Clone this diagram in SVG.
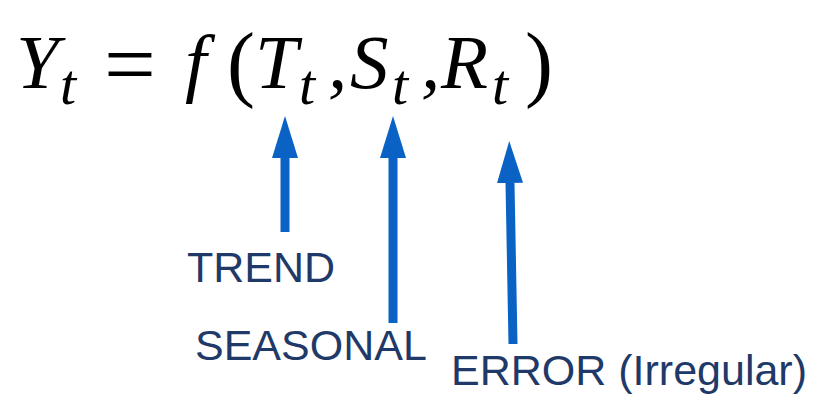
<svg xmlns="http://www.w3.org/2000/svg" width="838" height="400" viewBox="0 0 838 400">
<defs>
<style>
.eq{font-family:"Liberation Serif","DejaVu Serif",serif;font-style:italic;fill:#000}
.up{font-style:normal}
.sub{font-size:58px}
.lbl{font-family:"Liberation Sans",Arial,sans-serif;font-size:43px;fill:#1F3A68}
.arr{stroke:#0A63C4;stroke-width:9;fill:none;marker-end:url(#ah)}
</style>
<marker id="ah" viewBox="0 0 42 26" markerWidth="42" markerHeight="26" refX="0" refY="13" orient="auto" markerUnits="userSpaceOnUse">
<path d="M0,0 L42,13 L0,26 Z" fill="#0A63C4"/>
</marker>
</defs>
<rect width="838" height="400" fill="#fff"/>
<g id="equation">
<text class="eq" font-size="77"><tspan x="16" y="88">Y</tspan><tspan class="sub" x="60" y="104">t</tspan><tspan class="up" font-size="92" x="104" y="95">=</tspan><tspan x="185" y="88">f</tspan><tspan class="up" font-size="84" x="227" y="91">(</tspan><tspan x="255" y="88">T</tspan><tspan class="sub" x="299" y="104">t</tspan><tspan x="328" y="88">,</tspan><tspan x="350" y="88">S</tspan><tspan class="sub" x="392" y="104">t</tspan><tspan x="421" y="88">,</tspan><tspan x="441" y="88">R</tspan><tspan class="sub" x="492" y="104">t</tspan><tspan class="up" font-size="84" x="525" y="91">)</tspan></text>
</g>
<g id="connectors">
<line class="arr" x1="285" y1="232" x2="285" y2="158"/>
<line class="arr" x1="393" y1="323" x2="393" y2="158"/>
<line class="arr" x1="513" y1="344" x2="510" y2="183"/>
</g>
<g id="trend"><text class="lbl" x="187" y="282">TREND</text></g>
<g id="seasonal"><text class="lbl" x="195" y="360">SEASONAL</text></g>
<g id="error"><text class="lbl" x="451" y="385">ERROR (Irregular)</text></g>
</svg>
